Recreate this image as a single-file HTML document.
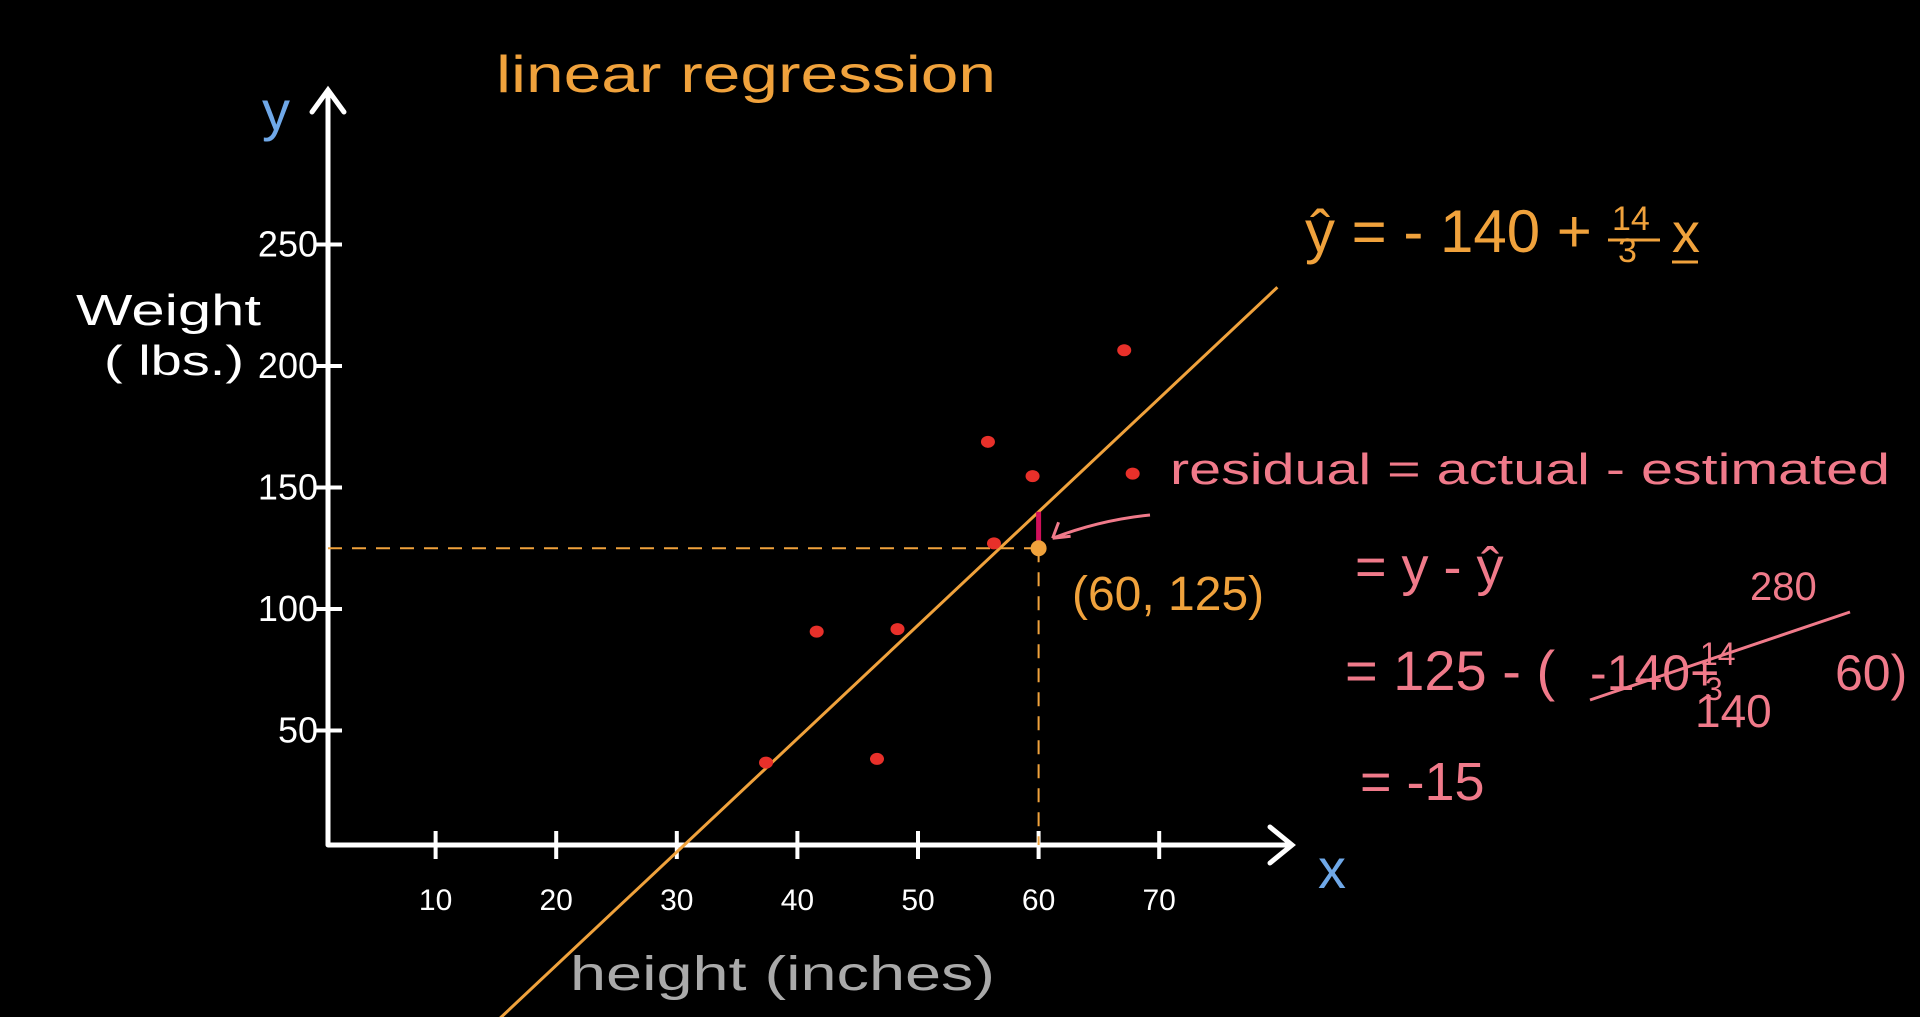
<!DOCTYPE html>
<html><head><meta charset="utf-8"><style>
html,body{margin:0;padding:0;background:#000;}
svg{display:block;}
text{font-family:"Liberation Sans",sans-serif;}
</style></head><body>
<svg id="chart" width="1920" height="1017" viewBox="0 0 1920 1017">
<rect width="1920" height="1017" fill="#000"/>
<text x="496" y="92" fill="#f0a23c" font-size="52" textLength="500" lengthAdjust="spacingAndGlyphs">linear  regression</text>
<g id="axes"></g>
<g id="marks"></g>
<text x="262" y="130" fill="#6fa8e8" font-size="56">y</text>
<text x="1318" y="888" fill="#6fa8e8" font-size="56">x</text>
<text x="76" y="325" fill="#fff" font-size="44" textLength="185" lengthAdjust="spacingAndGlyphs">Weight</text>
<text x="104" y="375" fill="#fff" font-size="42" textLength="140" lengthAdjust="spacingAndGlyphs">( lbs.)</text>
<text x="570" y="990" fill="#aaa" font-size="48" textLength="425" lengthAdjust="spacingAndGlyphs">height (inches)</text>
<g fill="#f0a23c">
<text x="1305" y="252" font-size="60">ŷ = - 140 +</text>
<text x="1612" y="230" font-size="34">14</text>
<line x1="1608" y1="240" x2="1660" y2="240" stroke="#f0a23c" stroke-width="3"/>
<text x="1618" y="262" font-size="34">3</text>
<text x="1672" y="252" font-size="56">x</text>
<line x1="1672" y1="262" x2="1698" y2="262" stroke="#f0a23c" stroke-width="3"/>
</g>
<text x="1072" y="610" fill="#f0a23c" font-size="48">(60, 125)</text>
<g fill="#f07a8a">
<text x="1170" y="484" font-size="44" textLength="720" lengthAdjust="spacingAndGlyphs">residual = actual - estimated</text>
<text x="1355" y="585" font-size="54">= y - ŷ</text>
<text x="1750" y="600" font-size="40">280</text>
<text x="1345" y="690" font-size="56">= 125 - (</text>
<text x="1590" y="690" font-size="50">-140+</text>
<text x="1700" y="665" font-size="32">14</text>
<text x="1705" y="700" font-size="32">3</text>
<text x="1835" y="690" font-size="50">60)</text>
<line x1="1590" y1="700" x2="1850" y2="612" stroke="#f07a8a" stroke-width="3"/>
<text x="1695" y="727" font-size="46">140</text>
<text x="1360" y="800" font-size="54">= -15</text>
</g>
<script>
const xTicks=[10,20,30,40,50,60,70];
const yTicks=[50,100,150,200,250];
const px=[37.4,41.6,46.6,48.3,55.8,56.3,59.5,67.8,67.1];
const py=[36.8,90.7,38.3,91.7,168.8,127,154.7,155.7,206.5];
const intercept=-140;
const slope=14/3;
const focusX=[60];
const focusY=[125];
const NS="http://www.w3.org/2000/svg";
function X(v){return 315+12.06*v;}
function Y(v){return 852-2.43*v;}
function mk(tag,attrs,parent){const e=document.createElementNS(NS,tag);for(const k in attrs)e.setAttribute(k,attrs[k]);parent.appendChild(e);return e;}
const axes=document.getElementById('axes');
const marks=document.getElementById('marks');
const ox=328,oy=845;
let a=mk('path',{d:`M${ox},${oy} L1290,${oy} M1270,${oy-18} L1292,${oy} L1270,${oy+18} M${ox},${oy} L${ox},92 M${ox-16},112 L${ox},90 L${ox+16},112`,stroke:'#fff','stroke-width':5,fill:'none','stroke-linecap':'round'},axes);


xTicks.forEach(t=>{
 const l=mk('line',{x1:X(t),x2:X(t),y1:oy-14,y2:oy+14,stroke:'#fff','stroke-width':4},axes);
 
 
 const tx=mk('text',{x:X(t),y:910,fill:'#fff','font-size':30,'text-anchor':'middle'},axes);tx.textContent=t;
 
 
});
yTicks.forEach(t=>{
 const l=mk('line',{x1:ox-14,x2:ox+14,y1:Y(t),y2:Y(t),stroke:'#fff','stroke-width':4},axes);
 
 
 const tx=mk('text',{x:ox-10,y:Y(t)+12,fill:'#fff','font-size':36,'text-anchor':'end'},axes);tx.textContent=t;
 
 
});
const x0=X(15.2),x1=X(79.8);
const rl=mk('line',{x1:x0,y1:Y(intercept+slope*15.2),x2:x1,y2:Y(intercept+slope*79.8),stroke:'#f0a23c','stroke-width':3},marks);


const fx=X(focusX[0]),fy=Y(focusY[0]);
const dh=mk('line',{x1:ox,y1:fy,x2:fx,y2:fy,stroke:'#f0a23c','stroke-width':2,'stroke-dasharray':'14 10'},marks);


const dv=mk('line',{x1:fx,y1:fy,x2:fx,y2:oy,stroke:'#f0a23c','stroke-width':2,'stroke-dasharray':'14 10'},marks);


const rs=mk('line',{x1:fx,y1:Y(intercept+slope*focusX[0]),x2:fx,y2:fy-6,stroke:'#d0105a','stroke-width':5},marks);


const ar=mk('path',{d:`M1150,515 Q1100,520 ${fx+14},${fy-10} M${fx+14},${fy-10} l18,-2 M${fx+14},${fy-10} l6,-16`,stroke:'#f07a8a','stroke-width':3,fill:'none'},marks);


px.forEach((v,i)=>{
 const c=mk('ellipse',{cx:X(v),cy:Y(py[i]),rx:7,ry:6,fill:'#e8302a'},marks);
 
 
});
const fp=mk('circle',{cx:fx,cy:fy,r:8,fill:'#f0a23c'},marks);


</script>
</svg>
</body></html>
